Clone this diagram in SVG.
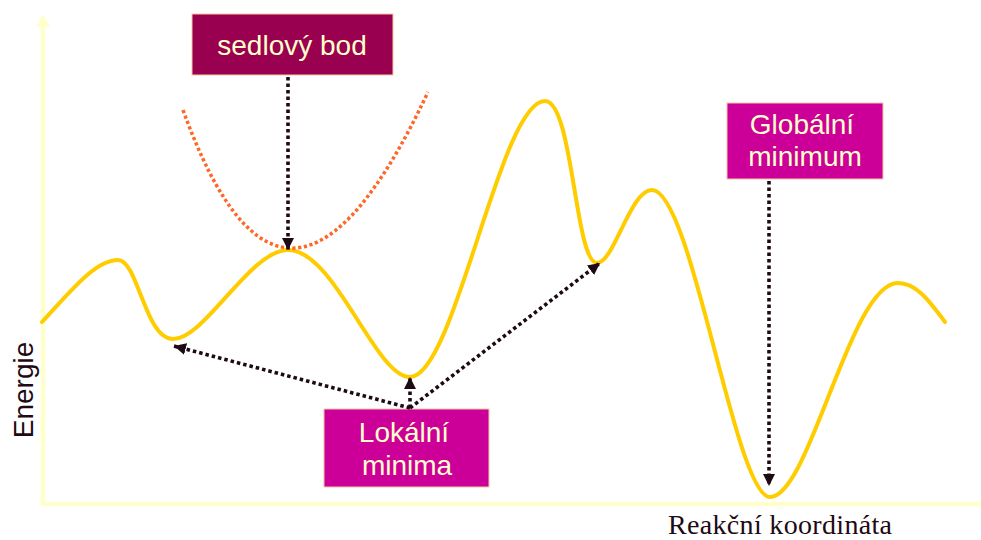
<svg xmlns="http://www.w3.org/2000/svg" width="981" height="540" viewBox="0 0 981 540">
<style>
.axis{stroke:#FFFFCC;stroke-width:4.5;fill:none}
.curve{stroke:#FFCC00;stroke-width:4;fill:none;stroke-linecap:round}
.saddle{stroke:#FF6628;stroke-width:3.5;fill:none;stroke-dasharray:3.2 2.6}
.conn{stroke:#1E0A14;stroke-width:3.6;fill:none;stroke-dasharray:3.5 3}
.box{stroke:#F5C8A0;stroke-width:1}
.lbl{font-family:"Liberation Sans",Arial,sans-serif;font-size:28px;fill:#FFFFCC;text-anchor:middle}
</style>
<defs>
<marker id="ah" markerUnits="userSpaceOnUse" markerWidth="14" markerHeight="14" viewBox="0 0 14 14" refX="12" refY="7" orient="auto">
<path d="M0,1 L12,7 L0,13 Z" fill="#1E0A14"/>
</marker>
</defs>
<g id="axes">
<line class="axis" x1="43" y1="26" x2="43" y2="504"/>
<polygon points="43,14 36,27 50,27" fill="#FFFFCC"/>
<line class="axis" x1="41" y1="504" x2="981" y2="504"/>
</g>
<g id="energy-curve">
<path class="curve" d="M42,322 C70,292 95,260 118,260 C138,260 145,339 173,339 C205,339 250,250 288,250 C335,250 375,377 410,377 C455,377 500,101 545,101 C573,101 575,263 597,263 C614,263 630,190 652,190 C692,190 735,497 770,497 C810,497 850,283 898,283 C918,283 932,305 945,322"/>
</g>
<g id="saddle-parabola">
<path class="saddle" d="M183,110 Q286,395 428,92"/>
</g>
<g id="sedlovy-bod">
<rect class="box" x="192" y="14" width="201" height="61" fill="#990050"/>
<text class="lbl" x="292" y="55">sedlový bod</text>
</g>
<g id="lokalni-minima">
<rect class="box" x="324" y="409" width="165" height="78" fill="#CC0099"/>
<text class="lbl" x="404" y="442">Lokální</text>
<text class="lbl" x="407" y="475">minima</text>
</g>
<g id="globalni-minimum">
<rect class="box" x="727" y="103" width="156" height="76" fill="#CC0099"/>
<text class="lbl" x="802" y="134">Globální</text>
<text class="lbl" x="805" y="166">minimum</text>
</g>
<g id="connectors">
<line class="conn" x1="288" y1="77" x2="288" y2="250" marker-end="url(#ah)"/>
<line class="conn" x1="410" y1="408" x2="174" y2="346" marker-end="url(#ah)"/>
<line class="conn" x1="410" y1="408" x2="410" y2="377" marker-end="url(#ah)"/>
<line class="conn" x1="410" y1="408" x2="600" y2="263" marker-end="url(#ah)"/>
<line class="conn" x1="769" y1="181" x2="769" y2="486" marker-end="url(#ah)"/>
</g>
<g id="axis-labels">
<text x="33" y="390" transform="rotate(-90 33 390)" font-family="Liberation Sans,Arial,sans-serif" font-size="28" fill="#1E0A14" text-anchor="middle">Energie</text>
<text x="668" y="534" font-family="Liberation Serif,Times New Roman,serif" font-size="28" textLength="224" fill="#1E0A14">Reakční koordináta</text>
</g>
</svg>
